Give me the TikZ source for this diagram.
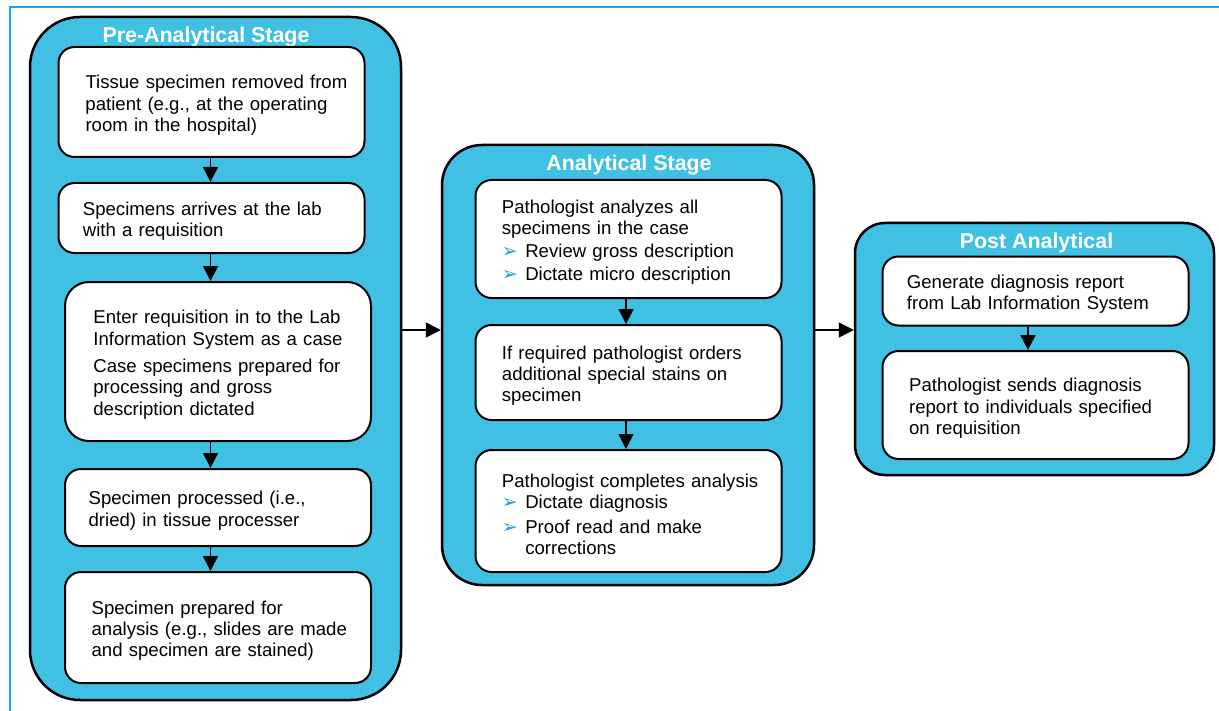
\documentclass[tikz,border=0pt]{standalone}
\usepackage{fontspec}
\setmainfont{Liberation Sans}
\newfontfamily\symfont{DejaVu Sans}
\usepackage{xcolor}
\usetikzlibrary{arrows.meta}

\definecolor{stagecyan}{RGB}{64,193,228}
\definecolor{framecyan}{RGB}{26,168,222}
\definecolor{bulletcyan}{RGB}{30,160,216}
\newcommand{\bul}{\makebox[11.7pt][l]{\textcolor{bulletcyan}{\symfont\fontsize{9.5}{9.5}\selectfont ➢}}}

\begin{document}
\begin{tikzpicture}[x=0.5pt,y=-0.5pt,
    stagebox/.style={draw=black,line width=1.25pt,fill=stagecyan,rounded corners=20pt},
    stagetitle/.style={anchor=base,inner sep=0pt,text=white,font=\bfseries\fontsize{10.7}{12}\selectfont},
    stepbox/.style={draw=black,line width=1pt,fill=white,rounded corners=8pt,
        text width=145pt,text height=10pt,inner xsep=4pt,align=left,font=\fontsize{9.3}{10.7}\selectfont,
        execute at begin node={\leftskip=#1\relax}},
    stepbox/.default=9pt,
    flow/.style={-{Triangle[length=7.5pt,width=7.5pt]},line width=0.75pt}]
  \useasboundingbox (0,0) rectangle (1219,711);
  \draw[framecyan,line width=1pt] (10,711) -- (10,7) -- (1219,7);

  \node[stagebox,rounded corners=25pt,minimum width=185.5pt,minimum height=341.5pt] (pre) at (215.5,358.5) {};
  \node[stagebox,minimum width=186pt,minimum height=220pt] (ana) at (628,365) {};
  \node[stagebox,rounded corners=15pt,minimum width=179.5pt,minimum height=126pt] (post) at (1034.5,349) {};

  \node[stagetitle] (pretitle) at (206,43) {Pre-Analytical Stage};
  \node[stagetitle] (anatitle) at (629,171) {Analytical Stage};
  \node[stagetitle] (posttitle) at (1036.5,249) {Post Analytical};

  \node[stepbox=9.5pt,minimum height=55pt] (tissue) at (211.5,102) {Tissue specimen removed from\\patient (e.g., at the operating\\room in the hospital)};
  \node[stepbox=8.2pt,minimum height=35pt] (arrive) at (211.5,218) {Specimens arrives at the lab\\with a requisition};
  \node[stepbox=10.2pt,minimum height=79.5pt,rounded corners=12pt] (enter) at (218,361.5) {Enter requisition in to the Lab\\Information System as a case\\[3pt]Case specimens prepared for\\processing and gross\\description dictated};
  \node[stepbox=7.8pt,minimum height=38.5pt] (process) at (218,507.5) {Specimen processed (i.e.,\\dried) in tissue processer};
  \node[stepbox=9.3pt,minimum height=55.5pt] (prepare) at (218,627.5) {Specimen prepared for\\analysis (e.g., slides are made\\and specimen are stained)};

  \node[stepbox=9.2pt,minimum height=59pt] (analyze) at (628.5,239) {Pathologist analyzes all\\specimens in the case\\[0.8pt]\bul Review gross description\\[0.8pt]\bul Dictate micro description};
  \node[stepbox=9.2pt,minimum height=47.5pt] (stains) at (628.5,372.5) {If required pathologist orders\\additional special stains on\\specimen};
  \node[stepbox=9.2pt,minimum height=61pt] (complete) at (628.5,511) {Pathologist completes analysis\\\bul Dictate diagnosis\\[1.5pt]\bul Proof read and make\\\hspace*{11.7pt}corrections};

  \node[stepbox=8.2pt,minimum height=34.5pt] (report) at (1035.5,291) {Generate diagnosis report\\from Lab Information System};
  \node[stepbox=9.3pt,minimum height=54pt] (send) at (1035.5,405) {Pathologist sends diagnosis\\report to individuals specified\\on requisition};

  \coordinate (preaxis) at (210.5,0);
  \coordinate (anaaxis) at (626,0);
  \coordinate (postaxis) at (1028,0);
  \coordinate (link) at (0,330);

  \draw[flow] (tissue.south -| preaxis) -- (arrive.north -| preaxis);
  \draw[flow] (arrive.south -| preaxis) -- (enter.north -| preaxis);
  \draw[flow] (enter.south -| preaxis) -- (process.north -| preaxis);
  \draw[flow] (process.south -| preaxis) -- (prepare.north -| preaxis);
  \draw[flow] (analyze.south -| anaaxis) -- (stains.north -| anaaxis);
  \draw[flow] (stains.south -| anaaxis) -- (complete.north -| anaaxis);
  \draw[flow] (report.south -| postaxis) -- (send.north -| postaxis);
  \draw[flow] (pre.east |- link) -- (ana.west |- link);
  \draw[flow] (ana.east |- link) -- (post.west |- link);
\end{tikzpicture}
\end{document}
